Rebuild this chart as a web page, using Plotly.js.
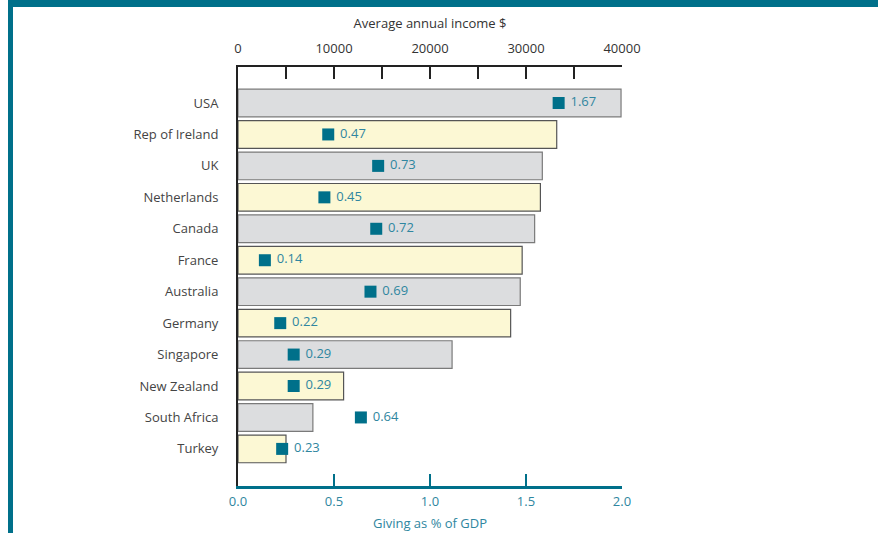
<!DOCTYPE html>
<html>
<head>
<meta charset="utf-8">
<script src="https://cdn.plot.ly/plotly-3.0.1.min.js"></script>
<style>
  html, body { margin: 0; padding: 0; background: #fff; }
  #wrap { position: relative; width: 878px; height: 533px; overflow: hidden; }
  #chart { position: absolute; left: 0; top: 0; width: 878px; height: 533px; }
  .frameTop { position: absolute; left: 8px; top: 0; width: 870px; height: 7px; background: #00708a; }
  .frameLeft { position: absolute; left: 8px; top: 0; width: 5px; height: 533px; background: #00708a; }
</style>
</head>
<body>
<div id="wrap">
  <div id="chart"></div>
  <div class="frameTop"></div>
  <div class="frameLeft"></div>
</div>
<script>
// Data
const countries = ["USA", "Rep of Ireland", "UK", "Netherlands", "Canada", "France",
                   "Australia", "Germany", "Singapore", "New Zealand", "South Africa", "Turkey"];
const income = [39900, 33200, 31700, 31500, 30900, 29600, 29400, 28400, 22300, 11000, 7800, 5000];
const giving = [1.67, 0.47, 0.73, 0.45, 0.72, 0.14, 0.69, 0.22, 0.29, 0.29, 0.64, 0.23];
const givingLabels = ["1.67", "0.47", "0.73", "0.45", "0.72", "0.14", "0.69", "0.22", "0.29", "0.29", "0.64", "0.23"];
const incomeTicks = [0, 5000, 10000, 15000, 20000, 25000, 30000, 35000, 40000];
const incomeTickText = ["0", "", "10000", "", "20000", "", "30000", "", "40000"];
const givingTicks = [0, 0.5, 1.0, 1.5, 2.0];
const givingTickText = ["0.0", "0.5", "1.0", "1.5", "2.0"];

const teal = "#00708a";
const tealText = "#2f86a0";
const grayFill = "#dcdddf";
const yellowFill = "#fcf8d4";
const barFills = countries.map((c, i) => i % 2 === 0 ? grayFill : yellowFill);
const barLines = countries.map((c, i) => i % 2 === 0 ? "#7a7a7a" : "#555555");

const font = "Open Sans, Lato, sans-serif";

const traces = [
  {
    type: "bar",
    orientation: "h",
    y: countries,
    x: income,
    xaxis: "x",
    yaxis: "y",
    width: 0.88,
    marker: { color: barFills, line: { color: barLines, width: 1.2 } },
    hoverinfo: "skip",
    showlegend: false
  },
  {
    type: "scatter",
    mode: "markers+text",
    y: countries,
    x: giving,
    xaxis: "x2",
    yaxis: "y",
    text: givingLabels,
    texttemplate: "\u00a0%{text}",
    textposition: "middle right",
    textfont: { family: font, size: 13, color: tealText },
    marker: { symbol: "square", size: 12, color: teal },
    cliponaxis: false,
    showlegend: false
  }
];

const layout = {
  width: 878,
  height: 533,
  margin: { l: 237.5, r: 255.5, t: 67, b: 47, pad: 0 },
  paper_bgcolor: "#ffffff",
  plot_bgcolor: "#ffffff",
  font: { family: font, size: 13, color: "#444" },
  showlegend: false,
  bargap: 0.1,
  xaxis2: {
    range: [0, 2],
    overlaying: "x",
    side: "bottom",
    tickvals: givingTicks,
    ticktext: givingTickText,
    ticks: "inside",
    ticklen: 12,
    tickwidth: 2.5,
    tickcolor: teal,
    showline: true,
    linecolor: teal,
    linewidth: 2.5,
    showgrid: false,
    zeroline: false,
    tickfont: { family: font, size: 13, color: tealText },
    ticklabelstandoff: 2,
    title: { text: "Giving as % of GDP", font: { family: font, size: 13, color: tealText }, standoff: 10 },
    fixedrange: true
  },
  xaxis: {
    range: [0, 40000],
    side: "top",
    tickvals: incomeTicks,
    ticktext: incomeTickText,
    ticks: "inside",
    ticklen: 12,
    tickwidth: 2,
    tickcolor: "#222",
    showline: true,
    linecolor: "#222",
    linewidth: 2,
    showgrid: false,
    zeroline: false,
    tickfont: { family: font, size: 13, color: "#333" },
    ticklabelstandoff: 7,
    title: { text: "Average annual income $", font: { family: font, size: 13, color: "#333" }, standoff: 7 },
    fixedrange: true
  },
  yaxis: {
    type: "category",
    categoryorder: "array",
    categoryarray: countries,
    range: [12.18, -1.145],
    showline: true,
    linecolor: "#222",
    linewidth: 2,
    ticks: "",
    showgrid: false,
    zeroline: false,
    tickfont: { family: font, size: 13, color: "#444" },
    ticklabelstandoff: 15,
    fixedrange: true
  }
};

Plotly.newPlot("chart", traces, layout, { displayModeBar: false, staticPlot: true });
</script>
</body>
</html>
